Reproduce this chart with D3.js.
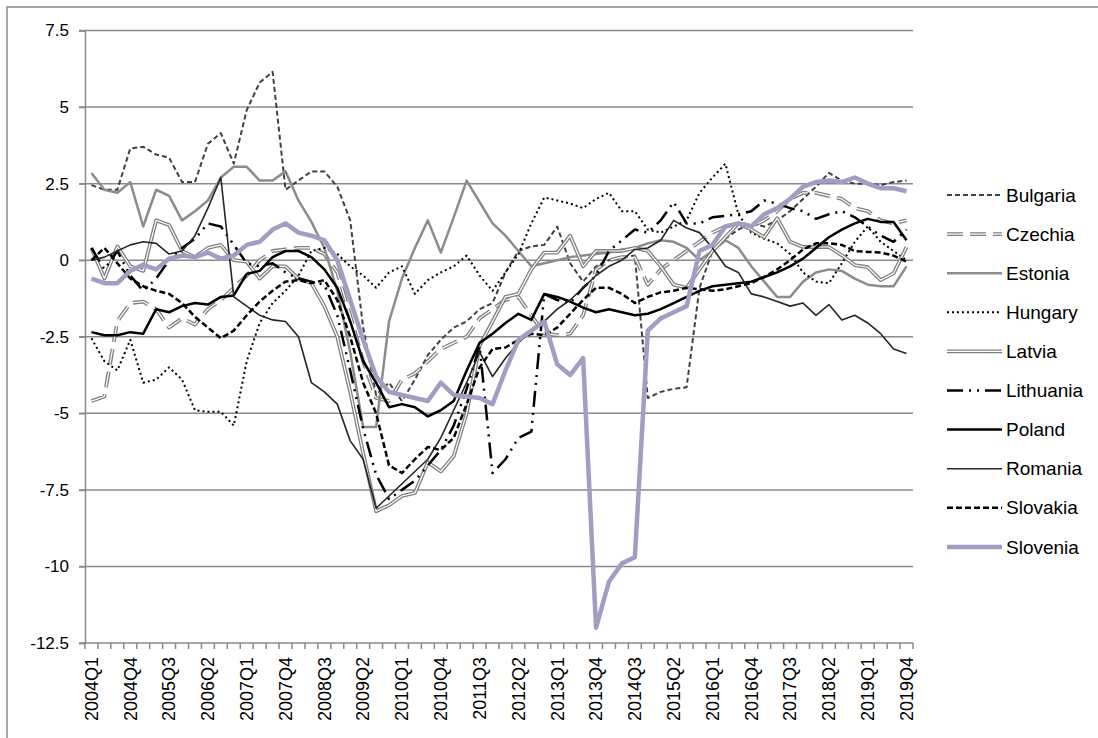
<!DOCTYPE html>
<html>
<head>
<meta charset="utf-8">
<script src="https://cdn.jsdelivr.net/npm/d3@7"></script>
<style>
  body { margin: 0; background: #fff; }
  svg text { font-family: "Liberation Sans", Arial, sans-serif; fill: #000; }
</style>
</head>
<body>
<svg id="chart" width="1098" height="738"></svg>
<script>
// Quarters 2004Q1 .. 2019Q4
const quarters = [];
for (let y = 2004; y <= 2019; y++) for (let q = 1; q <= 4; q++) quarters.push(y + "Q" + q);
const labelQuarters = quarters.filter((d, i) => i % 3 === 0);
const yTicks = [-12.5, -10, -7.5, -5, -2.5, 0, 2.5, 5, 7.5];

const bulgaria = [2.45,2.3,2.3,3.65,3.7,3.45,3.35,2.55,2.55,3.8,
  4.15,3.15,4.9,5.8,6.15,2.3,2.6,2.9,2.9,2.4,
  1.3,-2.2,-4.4,-4.0,-4.6,-3.9,-3.1,-2.6,-2.2,-2.0,
  -1.6,-1.4,-0.4,0.3,0.45,0.5,1.1,-0.1,-0.7,-0.2,
  0.0,0.1,0.15,-4.5,-4.3,-4.2,-4.15,-0.9,0.3,0.7,
  1.0,1.2,1.1,1.3,1.6,2.0,2.4,2.85,2.6,2.5,
  2.5,2.45,2.55,2.6];
const czechia = [-4.6,-4.45,-2.0,-1.4,-1.35,-1.6,-2.2,-1.9,-2.1,-1.6,
  -1.3,-0.9,-0.5,0.0,0.3,0.35,0.4,0.4,0.2,-0.4,
  -1.8,-3.3,-4.5,-4.6,-3.9,-3.7,-3.3,-2.9,-2.7,-2.5,
  -1.9,-1.6,-1.3,-1.2,-1.8,-2.4,-2.45,-2.4,-1.8,-0.3,
  0.0,0.1,0.1,-0.8,-0.3,0.0,0.3,0.6,0.9,1.1,
  1.2,1.1,1.3,1.6,2.0,2.2,2.2,2.1,2.0,1.7,
  1.6,1.3,1.2,1.3];
const estonia = [2.85,2.3,2.2,2.55,1.1,2.3,2.1,1.3,1.6,1.95,
  2.7,3.05,3.05,2.6,2.6,2.9,1.95,1.25,0.4,-1.0,
  -3.0,-5.45,-5.45,-2.0,-0.6,0.4,1.3,0.25,1.4,2.6,
  1.9,1.2,0.8,0.3,-0.2,-0.1,0.0,0.1,0.15,0.2,
  0.25,0.35,0.4,0.55,0.65,0.6,0.4,0.0,0.3,0.65,
  0.4,-0.2,-0.7,-1.2,-1.2,-0.7,-0.4,-0.3,-0.35,-0.6,
  -0.8,-0.85,-0.85,-0.2];
const hungary = [-2.55,-3.3,-3.6,-2.6,-4.0,-3.9,-3.5,-3.9,-4.9,-4.95,
  -4.95,-5.4,-3.3,-2.05,-1.4,-1.0,-0.5,0.3,0.4,0.2,
  -0.2,-0.5,-0.9,-0.4,-0.2,-1.1,-0.65,-0.4,-0.2,0.15,
  -0.5,-1.0,-0.4,0.2,1.2,2.05,1.95,1.85,1.7,2.0,
  2.2,1.6,1.6,1.0,0.9,1.1,1.3,2.2,2.7,3.15,
  1.5,0.9,0.7,0.55,0.2,-0.4,-0.7,-0.75,-0.1,0.6,
  1.1,0.6,0.3,0.0];
const latvia = [0.4,-0.6,0.45,-0.2,-0.35,1.3,1.15,0.3,0.1,0.4,
  0.5,0.0,-0.05,-0.6,-0.2,-0.2,-0.6,-0.75,-1.5,-2.5,
  -4.3,-6.3,-8.2,-8.0,-7.7,-7.6,-6.6,-6.9,-6.4,-5.0,
  -2.8,-2.0,-1.2,-1.1,-0.3,0.25,0.25,0.8,-0.2,0.3,
  0.3,0.3,0.4,0.3,-0.2,-0.8,-0.9,-0.3,0.3,0.75,
  1.2,1.0,0.75,1.37,0.6,0.43,0.43,0.43,0.16,-0.16,
  -0.23,-0.65,-0.43,0.43];
const lithuania = [0.4,-0.3,0.3,-0.5,-1.0,-0.6,0.0,0.4,0.7,1.2,
  1.1,0.5,-0.1,-0.2,-0.1,-0.4,-0.6,-0.7,-0.8,-1.8,
  -3.6,-5.5,-7.0,-7.8,-7.5,-7.2,-6.7,-6.2,-5.4,-4.2,
  -2.8,-6.95,-6.5,-5.8,-5.6,-1.1,-1.3,-1.4,-0.9,-0.5,
  0.3,0.65,1.0,0.9,1.3,1.9,1.2,1.2,1.4,1.45,
  1.5,1.6,1.95,1.85,1.7,1.6,1.35,1.5,1.6,1.4,
  1.1,0.8,0.6,1.0];
const poland = [-2.35,-2.45,-2.45,-2.35,-2.4,-1.6,-1.7,-1.5,-1.4,-1.45,
  -1.2,-1.15,-0.45,-0.35,0.1,0.3,0.3,0.1,-0.3,-0.9,
  -2.0,-3.3,-4.0,-4.8,-4.7,-4.8,-5.1,-4.9,-4.6,-3.6,
  -2.7,-2.4,-2.05,-1.75,-1.95,-1.1,-1.2,-1.35,-1.55,-1.7,
  -1.6,-1.7,-1.8,-1.75,-1.6,-1.4,-1.2,-1.0,-0.85,-0.8,
  -0.75,-0.7,-0.55,-0.4,-0.2,0.05,0.4,0.75,1.0,1.2,
  1.35,1.25,1.25,0.65];
const romania = [0.0,0.1,0.3,0.5,0.6,0.55,0.2,0.3,0.8,1.7,
  2.7,-1.2,-1.5,-1.8,-1.95,-2.0,-2.5,-4.0,-4.3,-4.7,
  -5.9,-6.5,-8.1,-7.7,-7.3,-6.9,-6.5,-5.8,-4.9,-4.0,
  -3.0,-3.8,-3.2,-2.7,-2.3,-2.0,-1.6,-1.3,-0.9,-0.5,
  -0.2,0.0,0.35,0.4,0.65,1.3,1.05,0.9,0.4,-0.2,
  -0.4,-1.1,-1.2,-1.35,-1.5,-1.4,-1.8,-1.45,-1.95,-1.8,
  -2.05,-2.4,-2.9,-3.05];
const slovakia = [0.0,0.4,-0.1,-0.6,-0.85,-1.0,-1.1,-1.4,-1.85,-2.2,
  -2.55,-2.3,-1.8,-1.35,-1.0,-0.7,-0.65,-0.75,-0.65,-1.3,
  -2.5,-4.0,-5.0,-6.7,-6.95,-6.5,-6.1,-6.2,-5.8,-4.7,
  -3.5,-2.9,-2.85,-2.6,-2.4,-2.45,-2.2,-1.75,-1.3,-0.9,
  -0.9,-1.1,-1.4,-1.2,-1.05,-1.0,-0.9,-0.95,-1.0,-0.95,
  -0.85,-0.75,-0.55,-0.3,0.0,0.35,0.55,0.55,0.5,0.3,
  0.27,0.25,0.15,-0.05];
const slovenia = [-0.6,-0.75,-0.75,-0.35,-0.15,-0.3,0.05,0.15,0.1,0.25,
  0.05,0.15,0.5,0.6,1.0,1.2,0.9,0.8,0.65,0.0,
  -1.3,-2.6,-3.8,-4.3,-4.4,-4.5,-4.6,-4.0,-4.4,-4.45,
  -4.5,-4.7,-3.6,-2.6,-2.3,-2.0,-3.4,-3.75,-3.2,-12.0,
  -10.5,-9.9,-9.7,-2.3,-1.9,-1.7,-1.5,0.3,0.5,1.1,
  1.2,1.1,1.5,1.7,2.0,2.4,2.55,2.6,2.55,2.7,
  2.5,2.35,2.35,2.25];

// name, values, stroke, width, dash, double-line flag
const series = [
  { name: "Bulgaria", values: bulgaria, color: "#404040", width: 2, dash: "5,3" },
  { name: "Czechia", values: czechia, color: "#7f7f7f", width: 3.8, dash: "16,7", dbl: true },
  { name: "Estonia", values: estonia, color: "#8c8c8c", width: 2.5, dash: null },
  { name: "Hungary", values: hungary, color: "#000", width: 2, dash: "2,3" },
  { name: "Latvia", values: latvia, color: "#7f7f7f", width: 3.8, dash: null, dbl: true },
  { name: "Lithuania", values: lithuania, color: "#000", width: 2.5, dash: "16,6,2,6,2,6" },
  { name: "Poland", values: poland, color: "#000", width: 2.5, dash: null },
  { name: "Romania", values: romania, color: "#262626", width: 1.6, dash: null },
  { name: "Slovakia", values: slovakia, color: "#000", width: 2.5, dash: "6,3" },
  { name: "Slovenia", values: slovenia, color: "#a49cc2", width: 4.5, dash: null }
];

const svg = d3.select("#chart");
const plotLeft = 85, plotRight = 913, plotTop = 30.5, plotBottom = 643;
const grid = "#8a8a8a";

// Outer chart frame
svg.append("rect")
  .attr("x", 7).attr("y", 7).attr("width", 1100).attr("height", 740)
  .attr("fill", "none").attr("stroke", grid).attr("stroke-width", 1.5);

const x = d3.scaleBand().domain(quarters).range([plotLeft, plotRight]).padding(0);
const y = d3.scaleLinear().domain([-12.5, 7.5]).range([plotBottom, plotTop]);
const cx = d => x(d) + x.bandwidth() / 2;

// Horizontal gridlines
svg.append("g").selectAll("line")
  .data(yTicks)
  .enter().append("line")
  .attr("x1", plotLeft - 6).attr("x2", plotRight)
  .attr("y1", d => y(d)).attr("y2", d => y(d))
  .attr("stroke", grid).attr("stroke-width", 1.5);

// Y axis
const yAxis = svg.append("g")
  .attr("transform", "translate(" + plotLeft + ",0)")
  .call(d3.axisLeft(y).tickValues(yTicks).tickSize(6).tickPadding(10).tickFormat(d => String(d)));
yAxis.selectAll("line").attr("stroke", grid).attr("stroke-width", 1.5);
yAxis.select(".domain").attr("stroke", grid).attr("stroke-width", 1.5);
yAxis.selectAll("text").style("font-size", "17px")
  .style("font-family", "'Liberation Sans', Arial, sans-serif").attr("fill", "#000");

// X axis: tick marks at category boundaries
svg.append("g").selectAll("line")
  .data(d3.range(quarters.length + 1))
  .enter().append("line")
  .attr("x1", i => plotLeft + i * x.bandwidth()).attr("x2", i => plotLeft + i * x.bandwidth())
  .attr("y1", plotBottom).attr("y2", plotBottom + 6)
  .attr("stroke", grid).attr("stroke-width", 1.5);

const xAxis = svg.append("g")
  .attr("transform", "translate(0," + plotBottom + ")")
  .call(d3.axisBottom(x).tickValues(labelQuarters).tickSize(0).tickPadding(0));
xAxis.select(".domain").remove();
xAxis.selectAll("text")
  .style("font-size", "18px")
  .style("font-family", "'Liberation Sans', Arial, sans-serif")
  .attr("fill", "#000")
  .attr("text-anchor", "end")
  .attr("dy", "0.35em")
  .attr("transform", "translate(0,14) rotate(-90)")
  .attr("x", 0).attr("y", 0);

// Series lines
const line = d3.line()
  .x((d, i) => cx(quarters[i]))
  .y(d => y(d));

const lines = svg.append("g");
series.forEach(s => {
  lines.append("path")
    .attr("d", line(s.values))
    .attr("fill", "none")
    .attr("stroke", s.color)
    .attr("stroke-width", s.width)
    .attr("stroke-dasharray", s.dash)
    .attr("stroke-linejoin", "round");
  if (s.dbl) {
    lines.append("path")
      .attr("d", line(s.values))
      .attr("fill", "none")
      .attr("stroke", "#fff")
      .attr("stroke-width", 1.2)
      .attr("stroke-dasharray", s.dash)
      .attr("stroke-linejoin", "round");
  }
});

// Legend
const legend = svg.append("g");
series.forEach((s, i) => {
  const ly = 195 + i * 39.1;
  const seg = [[947, ly], [1002, ly]];
  legend.append("path")
    .attr("d", d3.line()(seg))
    .attr("stroke", s.color).attr("stroke-width", s.width)
    .attr("stroke-dasharray", s.dash).attr("fill", "none");
  if (s.dbl) {
    legend.append("path")
      .attr("d", d3.line()(seg))
      .attr("stroke", "#fff").attr("stroke-width", 1.2)
      .attr("stroke-dasharray", s.dash).attr("fill", "none");
  }
  legend.append("text")
    .attr("x", 1006).attr("y", ly)
    .attr("dy", "0.35em")
    .style("font-size", "19px")
    .text(s.name);
});
</script>
</body>
</html>
